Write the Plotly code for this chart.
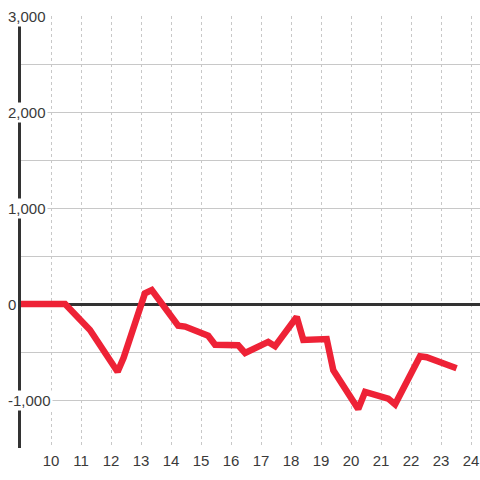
import plotly.graph_objects as go

# Data
hours = [9.0, 10.47, 11.3, 12.22, 12.42, 13.13, 13.36, 14.24, 14.47, 15.24, 15.47,
         16.24, 16.47, 17.24, 17.47, 18.19, 18.41, 19.19, 19.41, 20.24, 20.47,
         21.24, 21.47, 22.3, 22.52, 23.52]
values = [0, 0, -270, -705, -560, 110, 145, -225, -235, -330, -425,
          -430, -510, -395, -440, -135, -375, -365, -690, -1095, -915,
          -985, -1045, -545, -555, -670]

x_ticks = list(range(10, 25))
y_grid = [-1000, -500, 0, 500, 1000, 1500, 2000, 2500, 3000]
y_labels = [-1000, 0, 1000, 2000, 3000]

W, H = 480, 480
ML, MR, MT, MB = 21, 0, 16, 32
PW = W - ML - MR
PH = H - MT - MB
YMIN, YMAX = -1500, 3000
FONT = "Liberation Sans, Arial, sans-serif"

fig = go.Figure()
fig.add_trace(go.Scatter(
    x=hours, y=values, mode="lines",
    line=dict(color="#EE2236", width=6.5),
    hoverinfo="skip", showlegend=False,
))

annotations = []
for v in y_labels:
    annotations.append(dict(
        x=(6 - ML) / PW, xref="paper", y=v, yref="y",
        text=f"{v:,}", showarrow=False,
        xanchor="left", yanchor="middle",
        font=dict(family=FONT, size=15, color="#3a3a3a"),
        bgcolor="white", borderpad=1,
    ))

fig.update_layout(
    width=W, height=H,
    margin=dict(l=ML, r=MR, t=MT, b=MB, autoexpand=False),
    paper_bgcolor="white", plot_bgcolor="white",
    annotations=annotations,
    xaxis=dict(
        range=[9, 9 + PW / 30.0],
        tickvals=x_ticks, ticktext=[str(t) for t in x_ticks],
        showgrid=True, gridcolor="#c8c8c8", gridwidth=1, griddash="3px,3px",
        zeroline=False, showline=False, ticks="",
        tickfont=dict(family=FONT, size=15, color="#3a3a3a"),
        ticklabelstandoff=2, automargin=False,
    ),
    yaxis=dict(
        range=[YMIN, YMAX],
        tickvals=y_grid, showticklabels=False,
        showgrid=True, gridcolor="#c8c8c8", gridwidth=1,
        zeroline=True, zerolinecolor="#333", zerolinewidth=3,
        showline=True, linecolor="#333", linewidth=3, ticks="",
        automargin=False,
    ),
)

fig.write_html("out.html", config={"displayModeBar": False},
               post_script="document.body.style.margin='0';")
